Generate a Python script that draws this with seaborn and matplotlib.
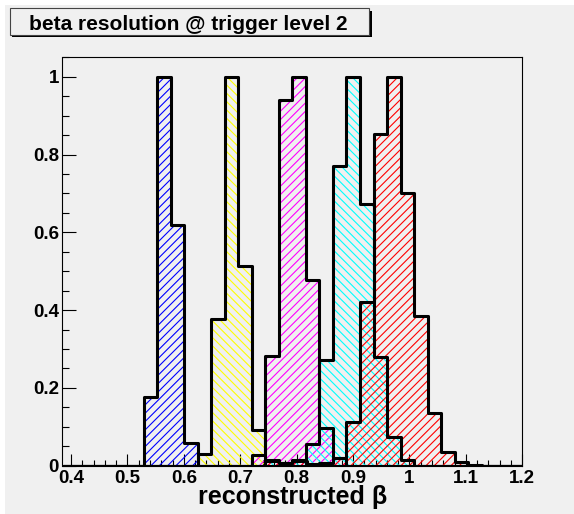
import numpy as np
import pandas as pd
import matplotlib
matplotlib.use("Agg")
import matplotlib.pyplot as plt
import seaborn as sns
from matplotlib.patches import Rectangle
from matplotlib.ticker import FixedLocator, MultipleLocator

# ---- data (normalised histogram contents) ----
x_min, x_max, n_bins = 0.385, 1.2, 34

blue_start = 6
blue_vals = [0.177, 1.0, 0.62, 0.058]
yellow_start = 10
yellow_vals = [0.03, 0.378, 1.0, 0.514, 0.092]
magenta_start = 14
magenta_vals = [0.028, 0.282, 0.94, 1.0, 0.477, 0.096, 0.02]
cyan_start = 15
cyan_vals = [0.012, 0.006, 0.015, 0.057, 0.272, 0.77, 1.0, 0.672, 0.28, 0.075, 0.015]
red_start = 15
red_vals = [0.014, 0.006, 0.012, 0.004, 0.008, 0.02, 0.113, 0.42, 0.852, 1.0,
            0.702, 0.385, 0.136, 0.034, 0.01, 0.003]

x_ticks = [0.4, 0.5, 0.6, 0.7, 0.8, 0.9, 1.0, 1.1, 1.2]
x_tick_labels = ["0.4", "0.5", "0.6", "0.7", "0.8", "0.9", "1", "1.1", "1.2"]
y_ticks = [0, 0.2, 0.4, 0.6, 0.8, 1.0]
y_tick_labels = ["0", "0.2", "0.4", "0.6", "0.8", "1"]

title = "beta resolution @ trigger level 2"
x_title = "reconstructed β"

# ---- build histogram table ----
bin_edges = np.linspace(x_min, x_max, n_bins + 1)
centers = 0.5 * (bin_edges[:-1] + bin_edges[1:])


def full(start, vals):
    arr = np.zeros(n_bins)
    arr[start:start + len(vals)] = vals
    return arr


series = [
    ("blue", full(blue_start, blue_vals), "#0000ff", "////"),
    ("yellow", full(yellow_start, yellow_vals), "#ffff00", "\\\\\\\\"),
    ("magenta", full(magenta_start, magenta_vals), "#ff00ff", "////"),
    ("cyan", full(cyan_start, cyan_vals), "#00ffff", "\\\\\\\\"),
    ("red", full(red_start, red_vals), "#ff0000", "////"),
]

W, H = 574, 514
BG = "#f0f0f0"

sns.set_theme(style="white")
plt.rcParams["font.family"] = ["Liberation Sans", "DejaVu Sans"]
plt.rcParams["hatch.linewidth"] = 0.8

fig = plt.figure(figsize=(W / 100, H / 100), dpi=100, facecolor="white")
# ROOT canvas grey area
fig.add_artist(Rectangle((5 / W, 0), 1 - 5 / W, 1 - 5 / H, transform=fig.transFigure,
                         facecolor=BG, edgecolor="none", zorder=-10))

ax_l, ax_r, ax_t, ax_b = 62.5, 522.3, 57.3, 465.7
ax = fig.add_axes([ax_l / W, 1 - ax_b / H, (ax_r - ax_l) / W, (ax_b - ax_t) / H])
ax.set_facecolor(BG)

edge_list = bin_edges.tolist()
for name, vals, color, hatch in series:
    df = pd.DataFrame({"beta": centers, "w": vals})
    sns.histplot(data=df, x="beta", weights="w", bins=edge_list, element="step",
                 fill=True, color=color, facecolor="none", edgecolor=color, linewidth=0,
                 hatch=hatch, ax=ax)
    sns.histplot(data=df, x="beta", weights="w", bins=edge_list, element="step",
                 fill=False, color="black", linewidth=2.2, ax=ax)

ax.set_xlim(x_min, x_max)
ax.set_ylim(0, 1.05)

ax.xaxis.set_major_locator(FixedLocator(x_ticks))
ax.set_xticklabels(x_tick_labels)
ax.xaxis.set_minor_locator(MultipleLocator(0.02))
ax.yaxis.set_major_locator(FixedLocator(y_ticks))
ax.set_yticklabels(y_tick_labels)
ax.yaxis.set_minor_locator(MultipleLocator(0.05))

ax.tick_params(axis="both", which="both", direction="in", colors="black",
               labelsize=13.5, width=0.8)
ax.tick_params(axis="x", which="major", length=8.5, pad=3)
ax.tick_params(axis="x", which="minor", length=4.2)
ax.tick_params(axis="y", which="major", length=10, pad=2.5)
ax.tick_params(axis="y", which="minor", length=5)
ax.tick_params(bottom=True, left=True, top=False, right=False, which="both")
for lab in ax.get_xticklabels() + ax.get_yticklabels():
    lab.set_fontweight("bold")

for s in ax.spines.values():
    s.set_visible(True)
    s.set_color("black")
    s.set_linewidth(0.8)

ax.set_ylabel("")
ax.set_xlabel(x_title, fontsize=18, fontweight="bold", color="black")
ax.xaxis.set_label_coords(0.5, -0.048)
ax.grid(False)

# title box with shadow
bx0, by0, bx1, by1 = 10, 8.3, 369.3, 35
fig.add_artist(Rectangle(((bx0 + 2.4) / W, 1 - (by1 + 2.4) / H), (bx1 - bx0) / W, (by1 - by0) / H,
                         transform=fig.transFigure, facecolor="black", edgecolor="none", zorder=5))
fig.add_artist(Rectangle((bx0 / W, 1 - by1 / H), (bx1 - bx0) / W, (by1 - by0) / H,
                         transform=fig.transFigure, facecolor=BG, edgecolor="#444444",
                         linewidth=0.8, zorder=6))
fig.text(29 / W, 1 - 30 / H, title, fontsize=15, fontweight="bold", ha="left",
         va="baseline", color="black", zorder=7)

fig.savefig("out.png", dpi=100, facecolor="white")
